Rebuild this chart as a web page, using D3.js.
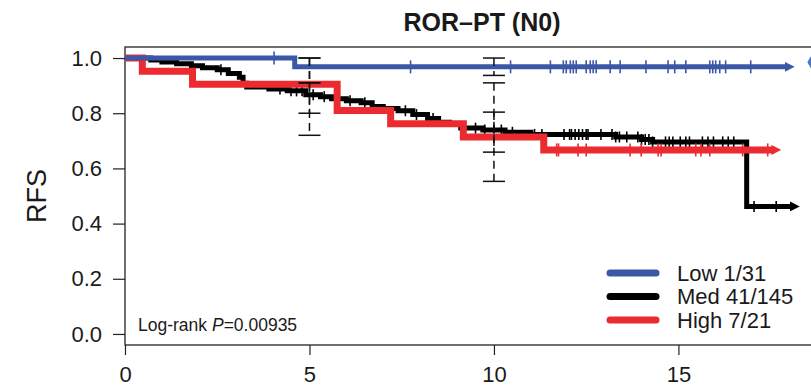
<!DOCTYPE html>
<html>
<head>
<meta charset="utf-8">
<script src="https://cdn.jsdelivr.net/npm/d3@7"></script>
<style>
  body { margin: 0; background: #fff; }
  svg text { font-family: "Liberation Sans", Arial, sans-serif; fill: #1a1a1a; }
</style>
</head>
<body>
<script>
// Kaplan-Meier step data (time in years, RFS)
var lowTimes = [0, 4.6];
var lowSurv = [1.0, 0.968];
var lowEnd = 17.96;
var lowCensor = [4.04, 7.74, 10.45, 11.53, 11.88, 11.96, 12.07, 12.15, 12.23, 12.5, 12.61, 12.69, 12.77,
                 13.15, 13.42, 14.12, 14.72, 14.9, 15.2, 15.85, 15.93, 16.01, 16.12, 16.28, 16.96];

var medTimes = [0, 0.7, 1.0, 1.4, 1.8, 2.1, 2.5, 2.8, 3.1, 3.2, 3.3, 3.9, 4.4, 4.9, 5.3, 5.6, 6.0, 6.4, 6.7,
                7.0, 7.4, 7.8, 8.2, 8.5, 8.8, 9.1, 9.7, 10.3, 11.0, 13.3, 14.0, 14.3, 16.85];
var medSurv = [1.0, 0.993, 0.986, 0.979, 0.972, 0.965, 0.958, 0.944, 0.930, 0.909, 0.895, 0.888, 0.881, 0.867,
               0.860, 0.852, 0.845, 0.838, 0.824, 0.817, 0.809, 0.795, 0.781, 0.767, 0.760, 0.746, 0.739,
               0.731, 0.723, 0.714, 0.705, 0.696, 0.462];
var medEnd = 18.1;
var medCensor = [2.6, 4.2, 4.5, 4.65, 4.8, 5.1, 5.4, 6.1, 6.5, 7.6, 7.9, 8.35, 9.5, 9.75, 10.0, 10.2, 10.5,
                 11.1, 11.3, 11.9, 12.05, 12.1, 12.2, 12.3, 12.4, 12.5, 12.55, 12.9, 13.2, 13.3, 13.4, 13.6,
                 13.9, 14.0, 14.1, 14.2, 14.3, 14.65, 14.75, 14.85, 15.05, 15.2, 15.3, 15.65, 15.8, 15.95,
                 16.2, 16.35, 16.5, 17.05, 17.65];

var highTimes = [0, 0.47, 1.83, 5.75, 7.2, 9.17, 11.35];
var highSurv = [1.0, 0.952, 0.905, 0.810, 0.762, 0.714, 0.667];
var highEnd = 17.6;
var highCensor = [11.7, 11.75, 12.28, 12.5, 13.69, 13.99, 14.45, 14.53, 15.47, 15.61, 15.85, 16.74, 17.42];

// confidence interval bars at 5 and 10 years: [time, lower, upper]
var ciBars = [[5, 0.91, 1.0], [5, 0.80, 0.91], [5, 0.72, 1.0],
              [10, 0.937, 1.0], [10, 0.659, 0.804], [10, 0.553, 0.91]];

var legendLabels = ["Low 1/31", "Med 41/145", "High 7/21"];
var xTicks = [0, 5, 10, 15];
var yTicks = [0, 0.2, 0.4, 0.6, 0.8, 1.0];

var colors = {low: "#3b58a6", med: "#000000", high: "#ec2b30"};

var W = 811, H = 390;
var svg = d3.select("body").append("svg").attr("width", W).attr("height", H);

var x = d3.scaleLinear().domain([0, 19]).range([125, 826]);
var y = d3.scaleLinear().domain([-0.04, 1.04]).range([345, 47]);

// title
svg.append("text")
    .attr("x", 482).attr("y", 31)
    .attr("text-anchor", "middle")
    .style("font-weight", "bold").style("font-size", "25px")
    .text("ROR\u2013PT (N0)");

// y axis
var yAxis = svg.append("g")
    .attr("transform", "translate(" + x(0) + ",0)")
    .call(d3.axisLeft(y).tickValues(yTicks).tickFormat(d3.format(".1f")).tickSize(12).tickPadding(11));
yAxis.select(".domain").remove();
yAxis.selectAll("text").style("font-size", "22px").attr("fill", "#1a1a1a");
yAxis.selectAll("line").attr("stroke", "#222").attr("stroke-width", 1.2);

svg.append("text")
    .attr("transform", "translate(46," + y(0.5) + ") rotate(-90)")
    .attr("text-anchor", "middle")
    .style("font-size", "27px")
    .text("RFS");

// x axis
var xAxis = svg.append("g")
    .attr("transform", "translate(0," + y.range()[0] + ")")
    .call(d3.axisBottom(x).tickValues(xTicks).tickSize(10).tickPadding(11));
xAxis.select(".domain").remove();
xAxis.selectAll("text").style("font-size", "22px").attr("fill", "#1a1a1a");
xAxis.selectAll("line").attr("stroke", "#222").attr("stroke-width", 1.2);

// box
svg.append("rect")
    .attr("x", x(0)).attr("y", y.range()[1])
    .attr("width", x.range()[1] - x(0)).attr("height", y.range()[0] - y.range()[1])
    .attr("fill", "none").attr("stroke", "#222").attr("stroke-width", 1.3);

// arrow markers for the curve ends
var defs = svg.append("defs");
Object.keys(colors).forEach(function(k) {
    defs.append("marker")
        .attr("id", "arr-" + k)
        .attr("viewBox", "0 0 10 10")
        .attr("refX", 3).attr("refY", 5)
        .attr("markerWidth", 10).attr("markerHeight", 10)
        .attr("orient", "auto")
        .attr("markerUnits", "userSpaceOnUse")
      .append("path")
        .attr("d", "M0,0 L10,5 L0,10 Z")
        .attr("fill", colors[k]);
});

var stepLine = d3.line()
    .x(function(d) { return x(d[0]); })
    .y(function(d) { return y(d[1]); })
    .curve(d3.curveStepAfter);

function survAt(times, surv, t) {
    var i = d3.bisectRight(times, t) - 1;
    return surv[Math.max(i, 0)];
}

function drawCurve(key, times, surv, end, censor, width, tickH) {
    var pts = times.map(function(t, i) { return [t, surv[i]]; });
    pts.push([end, surv[surv.length - 1]]);
    svg.append("path")
        .attr("d", stepLine(pts))
        .attr("fill", "none")
        .attr("stroke", colors[key])
        .attr("stroke-width", width)
        .attr("marker-end", "url(#arr-" + key + ")");
    svg.append("g").selectAll("line")
        .data(censor)
        .enter().append("line")
        .attr("x1", function(d) { return x(d); })
        .attr("x2", function(d) { return x(d); })
        .attr("y1", function(d) { return y(survAt(times, surv, d)) - tickH / 2; })
        .attr("y2", function(d) { return y(survAt(times, surv, d)) + tickH / 2; })
        .attr("stroke", colors[key])
        .attr("stroke-width", 1.6);
}

drawCurve("med", medTimes, medSurv, medEnd, medCensor, 5, 11);
drawCurve("high", highTimes, highSurv, highEnd, highCensor, 7, 13);
drawCurve("low", lowTimes, lowSurv, lowEnd, lowCensor, 5, 13);

// confidence interval bars
var ci = svg.append("g").attr("stroke", "#111").attr("stroke-width", 1.5);
ciBars.forEach(function(b) {
    ci.append("line")
        .attr("x1", x(b[0])).attr("x2", x(b[0]))
        .attr("y1", y(b[2])).attr("y2", y(b[1]))
        .attr("stroke-dasharray", "8,5");
    [b[1], b[2]].forEach(function(v) {
        ci.append("line")
            .attr("x1", x(b[0]) - 11).attr("x2", x(b[0]) + 11)
            .attr("y1", y(v)).attr("y2", y(v));
    });
});

// diamond partly outside the frame
svg.append("path")
    .attr("d", d3.symbol().type(d3.symbolDiamond).size(110)())
    .attr("transform", "translate(813," + y(0.985) + ")")
    .attr("fill", "#4a78bd");

// legend
var legendKeys = ["low", "med", "high"];
var leg = svg.append("g");
legendKeys.forEach(function(k, i) {
    var ly = 273 + i * 23.5;
    leg.append("line")
        .attr("x1", 610).attr("x2", 656)
        .attr("y1", ly).attr("y2", ly)
        .attr("stroke", colors[k]).attr("stroke-width", 7)
        .attr("stroke-linecap", "round");
    leg.append("text")
        .attr("x", 677).attr("y", ly + 7.5)
        .style("font-size", "22px")
        .text(legendLabels[i]);
});

// log-rank annotation
var lr = svg.append("text")
    .attr("x", 138).attr("y", 331)
    .style("font-size", "17.5px");
lr.append("tspan").text("Log-rank ");
lr.append("tspan").style("font-style", "italic").text("P");
lr.append("tspan").text("=0.00935");
</script>
</body>
</html>
